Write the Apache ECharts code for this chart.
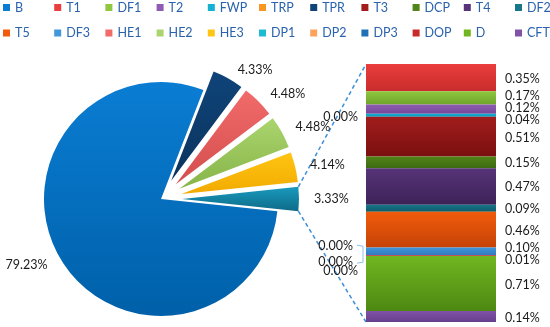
<!DOCTYPE html>
<html><head><meta charset="utf-8">
<script src="https://cdn.jsdelivr.net/npm/echarts@6/dist/echarts.min.js"></script>
<style>html,body{margin:0;padding:0;background:#fff}#c{width:550px;height:327px}</style>
</head><body><div id="c"></div>
<script>
// ---- data ----
const pieNames = ['TPR', 'HE1', 'HE2', 'HE3', 'Other', 'B'];
const pieValues = [4.33, 4.48, 4.48, 4.14, 3.33, 79.23];
const barNames = ['T1', 'DF1', 'T2', 'FWP', 'TRP', 'T3', 'DCP', 'T4', 'DF2', 'T5', 'DF3', 'DP1', 'DP2', 'DP3', 'DOP', 'D', 'CFT'];
const barValues = [0.35, 0.17, 0.12, 0.04, 0.00, 0.51, 0.15, 0.47, 0.09, 0.46, 0.10, 0.00, 0.00, 0.00, 0.01, 0.71, 0.14];
const legendRow1 = ['B', 'T1', 'DF1', 'T2', 'FWP', 'TRP', 'TPR', 'T3', 'DCP', 'T4', 'DF2'];
const legendRow2 = ['T5', 'DF3', 'HE1', 'HE2', 'HE3', 'DP1', 'DP2', 'DP3', 'DOP', 'D', 'CFT'];

// ---- styles ----
const colors = {
  B: ['#0a7dd3', '#0060a9'], T1: ['#ea3d3d', '#c92c2c'], DF1: ['#8fc740', '#6ea42b'],
  T2: ['#8e5db3', '#774799'], FWP: ['#16b0d2', '#0f94b5'], TRP: ['#f8961f', '#e07f10'],
  TPR: ['#0f4479', '#0a335e'], T3: ['#a21d1d', '#7b0f0f'], DCP: ['#528419', '#3d6a10'],
  T4: ['#573478', '#3d2257'], DF2: ['#18768a', '#0d5a69'], T5: ['#f05b0c', '#c64306'],
  DF3: ['#4296da', '#2f7bc2'], HE1: ['#f26b6b', '#d44e4e'], HE2: ['#abd46e', '#86b548'],
  HE3: ['#ffc513', '#f2aa00'], DP1: ['#1dbad6', '#149cb8'], DP2: ['#ffa35c', '#f0883c'],
  DP3: ['#2070b8', '#175a98'], DOP: ['#c92b2b', '#a81e1e'], D: ['#70b620', '#4d8812'],
  CFT: ['#8152a8', '#663f8c'], Other: ['#1a9abd', '#0d6b88']
};
const grad = n => new echarts.graphic.LinearGradient(0, 0, 0, 1, [
  { offset: 0, color: colors[n][0] }, { offset: 1, color: colors[n][1] }]);
const FONT = 'Lato';
const labelColor = '#1a1a1a';

const pieCenter = [161, 199], pieR = 117, explode = 21;
const total = pieValues.reduce((a, b) => a + b, 0);
const otherIdx = pieNames.indexOf('Other');
const before = pieValues.slice(0, otherIdx).reduce((a, b) => a + b, 0);
const startAngle = (before + pieValues[otherIdx] / 2) / total * 360;

const grid = { left: 366, top: 64, width: 130, height: 258 };
const barTotal = barValues.reduce((a, b) => a + b, 0);

// zero-value label placement (style)
const zeroLayout = { TRP: { dx: -3, dy: 0 }, DP1: { dx: -8, dy: -9 }, DP2: { dx: -8, dy: 7 }, DP3: { dx: -3, dy: 16 } };
const labelGap = 12;

// natural label centres (from the stacked values) and simple overlap spreading
const natural = [];
let cum = 0;
barValues.forEach((v, i) => {
  natural.push(grid.top + (cum + v / 2) / barTotal * grid.height);
  cum += v;
});
const nz = barValues.map((v, i) => i).filter(i => barValues[i] !== 0);
let clusters = nz.map(i => ({ idx: [i] }));
const clusterStart = c => {
  const m = c.idx.reduce((s, i) => s + natural[i], 0) / c.idx.length;
  return m - (c.idx.length - 1) * labelGap / 2;
};
let changed = true;
while (changed) {
  changed = false;
  for (let k = 0; k < clusters.length - 1; k++) {
    const a = clusters[k], b = clusters[k + 1];
    const aEnd = clusterStart(a) + (a.idx.length - 1) * labelGap;
    if (clusterStart(b) - aEnd < labelGap) {
      clusters.splice(k, 2, { idx: a.idx.concat(b.idx) });
      changed = true;
      break;
    }
  }
}
const shifted = {};
clusters.forEach(c => { const s = clusterStart(c); c.idx.forEach((i, j) => { shifted[i] = s + j * labelGap; }); });

const pieSeries = {
  type: 'pie', center: pieCenter, radius: pieR, startAngle: startAngle, clockwise: true,
  selectedMode: 'multiple', selectedOffset: explode, avoidLabelOverlap: false,
  animation: false, silent: true,
  label: { show: true, position: 'outside', formatter: p => p.value.toFixed(2) + '%',
    color: labelColor, fontSize: 12.5, fontFamily: FONT },
  labelLine: { show: false, length: 10, length2: 0 },
  emphasis: { disabled: true },
  data: pieNames.map((n, i) => ({ name: n, value: pieValues[i], selected: n !== 'B',
    itemStyle: { color: grad(n) }, select: { itemStyle: { color: grad(n) } } }))
};

const barSeries = barNames.map((n, i) => {
  const v = barValues[i];
  const zero = v === 0;
  const s = {
    type: 'bar', name: n, stack: 'all', barWidth: '100%', animation: false, silent: true,
    data: [v], itemStyle: { color: grad(n) },
    label: { show: true, position: zero ? 'left' : 'right', distance: zero ? 5 : 9,
      offset: zero ? [0, 0] : [0, shifted[i] - natural[i] + 1],
      formatter: p => p.value.toFixed(2) + '%', color: labelColor, fontSize: 12.5,
      fontFamily: FONT }
  };
  if (zero) s.labelLayout = zeroLayout[n];
  return s;
});

const legendComps = [];
[legendRow1, legendRow2].forEach((row, r) => {
  row.forEach((n, c) => {
    legendComps.push({
      orient: 'horizontal', left: 3 + c * 51.2, top: r === 0 ? 1 : 26.5,
      itemWidth: 7, itemHeight: 7, itemGap: 0, icon: 'rect', selectedMode: false, padding: 0,
      textStyle: { color: '#2a63ad', fontSize: 12.5, fontFamily: FONT },
      data: [{ name: n, itemStyle: { color: colors[n][0] } }]
    });
  });
});

const chart = echarts.init(document.getElementById('c'), null, { renderer: 'canvas' });
chart.setOption({
  backgroundColor: '#fff',
  legend: legendComps,
  grid: Object.assign({ containLabel: false }, grid),
  xAxis: { type: 'category', data: [''], show: false },
  yAxis: { type: 'value', inverse: true, min: 0, max: barTotal, show: false },
  series: [pieSeries].concat(barSeries)
});

// connector dashed lines from "Other" slice to the bar
const rad = d => d * Math.PI / 180;
const a1 = startAngle - before / total * 360;
const a2 = a1 - pieValues[otherIdx] / total * 360;
const mid = (a1 + a2) / 2;
const ox = pieCenter[0] + explode * Math.cos(rad(mid));
const oy = pieCenter[1] - explode * Math.sin(rad(mid));
const p1 = [ox + pieR * Math.cos(rad(a1)), oy - pieR * Math.sin(rad(a1))];
const p2 = [ox + pieR * Math.cos(rad(a2)), oy - pieR * Math.sin(rad(a2))];
const barTop = chart.convertToPixel({ xAxisIndex: 0, yAxisIndex: 0 }, [0, 0]);
const barBot = chart.convertToPixel({ xAxisIndex: 0, yAxisIndex: 0 }, [0, barTotal]);
const lineStyle = { stroke: '#3b8fd9', lineWidth: 1.5, lineDash: [4, 3] };
// bracket leader for the DP1 / DP2 labels
const dp1 = barNames.indexOf('DP1'), dp2 = barNames.indexOf('DP2');
const yA = natural[dp1] + zeroLayout.DP1.dy, yB = natural[dp2] + zeroLayout.DP2.dy;
const bx = grid.left - 3;
chart.setOption({
  graphic: [
    { type: 'line', silent: true, z: 0, shape: { x1: p1[0], y1: p1[1], x2: grid.left, y2: barTop[1] }, style: lineStyle },
    { type: 'line', silent: true, z: 0, shape: { x1: p2[0], y1: p2[1], x2: grid.left, y2: barBot[1] }, style: lineStyle },
    { type: 'polyline', silent: true, z: 0,
      shape: { points: [[bx - 6, yA - 1], [bx, yA], [bx, yB], [bx - 6, yB + 1]] },
      style: { stroke: '#8fbfe8', lineWidth: 1, fill: null } }
  ]
});
</script>
</body></html>
